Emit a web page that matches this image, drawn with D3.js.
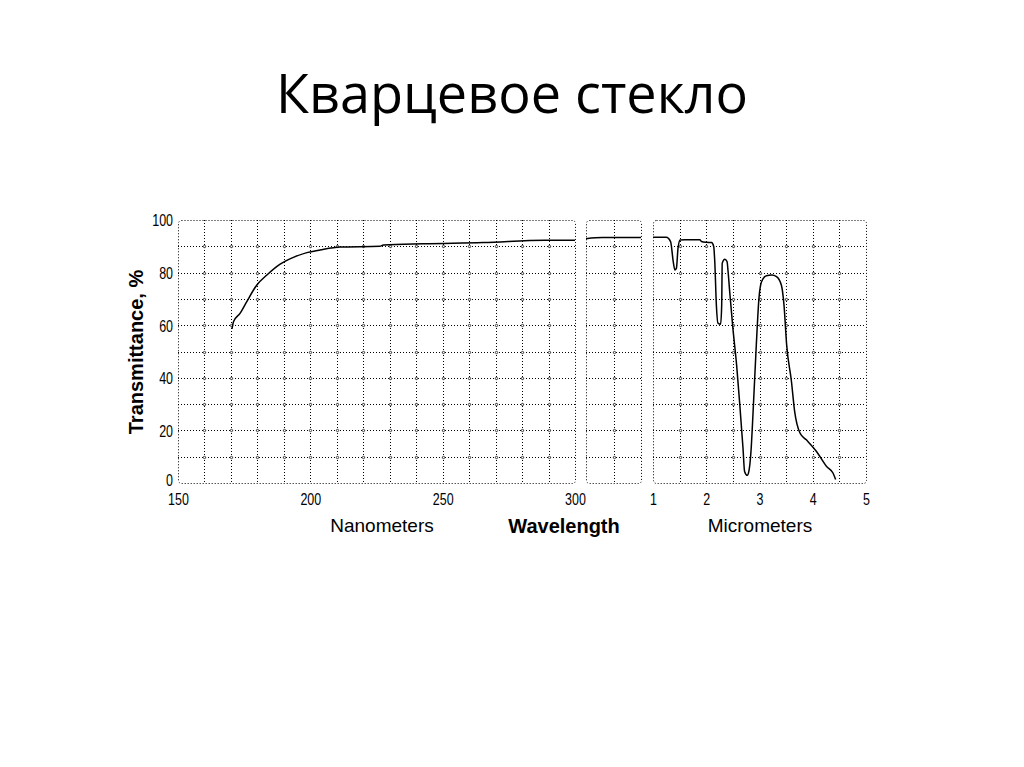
<!DOCTYPE html>
<html><head><meta charset="utf-8">
<script src="https://cdn.jsdelivr.net/npm/d3@7"></script>
<style>body{margin:0;background:#fff}svg{display:block}</style>
</head><body>
<script>
// ---- data ----
const titleText = "Кварцевое стекло";
const yTicks = [0, 20, 40, 60, 80, 100];
const nmTicks = [150, 200, 250, 300];
const umTicks = [1, 2, 3, 4, 5];
// panel 1: wavelength in nm, transmittance %
const nmWave = [170.4, 171, 173.5, 176, 179.8, 183.6, 188.6, 193.6, 198.7, 203.7, 211.2, 226.3, 227.6, 242.7, 265.3, 288.6, 300];
const nmTrans = [58.6, 61.4, 64.6, 69, 75.3, 79.1, 83.2, 85.8, 87.6, 88.6, 89.7, 90, 90.5, 91, 91.4, 92.3, 92.3];
// panel 2: unlabeled bridge segment (relative position 0..2)
const midPos = [0, 0.6, 2];
const midTrans = [92.9, 93.3, 93.3];
// panel 3: wavelength in micrometers, transmittance %
const umWave = [1.0, 1.25, 1.33, 1.38, 1.41, 1.44, 1.47, 1.51, 1.6, 1.88, 1.91, 2.0, 2.1, 2.14, 2.16, 2.19, 2.22, 2.27, 2.29, 2.3, 2.35, 2.39, 2.41, 2.44, 2.5, 2.57, 2.63, 2.69, 2.72, 2.77, 2.8, 2.84, 2.88, 2.94, 2.99, 3.04, 3.13, 3.23, 3.32, 3.41, 3.46, 3.51, 3.6, 3.66, 3.76, 3.88, 4.07, 4.26, 4.38, 4.43];
const umTrans = [93.4, 93.4, 91.8, 84.2, 81, 81.7, 89.3, 92.4, 92.5, 92.5, 91.8, 91.5, 91.4, 89.9, 84.2, 67.7, 60.8, 60.4, 67.7, 83.6, 85.1, 84.2, 80.4, 72.8, 58.9, 44.9, 29.7, 13.3, 4.4, 2.9, 4.4, 12, 27.2, 52.5, 70.3, 76.6, 78.8, 79.1, 78.5, 75.3, 67.7, 52.5, 38.6, 27.2, 19, 16.4, 12, 6.3, 3.8, 1.3];

// ---- drawing ----
const W = 1024, H = 767;
const svg = d3.select("body").append("svg").attr("width", W).attr("height", H);

svg.append("text").attr("x", 512).attr("y", 113).attr("text-anchor", "middle")
  .attr("font-family", "Open Sans, Noto Sans, sans-serif").attr("font-size", 54)
  .attr("fill", "#000").text(titleText);

const y = d3.scaleLinear().domain([0, 100]).range([483, 220]);
const panels = [
  {x: d3.scaleLinear().domain([150, 300]).range([178, 575]), grid: d3.range(160, 300, 10), wx: nmWave, wy: nmTrans},
  {x: d3.scaleLinear().domain([0, 2]).range([586, 641]), grid: [1], wx: midPos, wy: midTrans},
  {x: d3.scaleLinear().domain([1, 5]).range([653, 866]), grid: d3.range(1.5, 5, 0.5), wx: umWave, wy: umTrans}
];
const yGrid = d3.range(10, 100, 10);

panels.forEach(p => {
  const g = svg.append("g");
  const [x0, x1] = p.x.range();
  const [yb, yt] = y.range();
  g.selectAll(".vg").data(p.grid).join("line")
    .attr("x1", d => Math.round(p.x(d)) + 0.5).attr("x2", d => Math.round(p.x(d)) + 0.5)
    .attr("y1", yt).attr("y2", yb)
    .attr("stroke", "#000").attr("stroke-width", 1).attr("stroke-dasharray", "1,2");
  g.selectAll(".hg").data(yGrid).join("line")
    .attr("x1", x0).attr("x2", x1)
    .attr("y1", d => Math.round(y(d)) + 0.5).attr("y2", d => Math.round(y(d)) + 0.5)
    .attr("stroke", "#000").attr("stroke-width", 1).attr("stroke-dasharray", "1,2");
  g.append("rect").attr("x", x0 + 0.5).attr("y", yt + 0.5).attr("width", x1 - x0).attr("height", yb - yt)
    .attr("rx", 3).attr("fill", "none").attr("stroke", "#000").attr("stroke-width", 1).attr("stroke-dasharray", "1,2");
  const pts = [];
  p.grid.forEach(gx => yGrid.forEach(gy => pts.push([gx, gy])));
  g.selectAll(".ix").data(pts).join("circle")
    .attr("cx", d => Math.round(p.x(d[0])) + 0.5).attr("cy", d => Math.round(y(d[1])) + 0.5)
    .attr("r", 1.2).attr("fill", "#fff").attr("stroke", "#000").attr("stroke-width", 0.7);
  const line = d3.line().x(d => p.x(d[0])).y(d => y(d[1])).curve(d3.curveMonotoneX);
  g.append("path").datum(p.wx.map((v, i) => [v, p.wy[i]]))
    .attr("d", line).attr("fill", "none").attr("stroke", "#000").attr("stroke-width", 1.5);
});

const tickFont = "Liberation Sans, Arial, sans-serif";
function styleTicks(sel) {
  sel.select(".domain").remove();
  sel.selectAll("text").attr("font-family", tickFont).attr("font-size", 16).attr("fill", "#000");
}
// y axis labels
const ya = svg.append("g").attr("transform", "translate(173,0)")
  .call(d3.axisLeft(y).tickValues(yTicks).tickSize(0).tickPadding(0));
styleTicks(ya);
ya.selectAll("text").attr("x", 0).attr("dy", d => d === 0 ? "0.15em" : "0.37em").attr("transform", "scale(0.78,1)");

// x axis labels
[[panels[0].x, nmTicks], [panels[2].x, umTicks]].forEach(([sc, tv]) => {
  const xa = svg.append("g").attr("transform", "translate(0,505)")
    .call(d3.axisBottom(sc).tickValues(tv).tickFormat(d3.format("d")).tickSize(0));
  styleTicks(xa);
  xa.selectAll("text").attr("y", 0).attr("dy", 0).attr("transform", "scale(0.78,1)");
});

// axis titles
const lab = "Liberation Sans, Arial, sans-serif";
svg.append("text").attr("transform", "translate(143,352) rotate(-90)").attr("text-anchor", "middle")
  .attr("font-family", lab).attr("font-weight", "bold").attr("font-size", 20)
  .text("Transmittance, %");
svg.append("text").attr("x", 382).attr("y", 532).attr("text-anchor", "middle")
  .attr("font-family", lab).attr("font-size", 19).text("Nanometers");
svg.append("text").attr("x", 564).attr("y", 533).attr("text-anchor", "middle")
  .attr("font-family", lab).attr("font-weight", "bold").attr("font-size", 20).text("Wavelength");
svg.append("text").attr("x", 760).attr("y", 532).attr("text-anchor", "middle")
  .attr("font-family", lab).attr("font-size", 19).text("Micrometers");
</script>
</body></html>
